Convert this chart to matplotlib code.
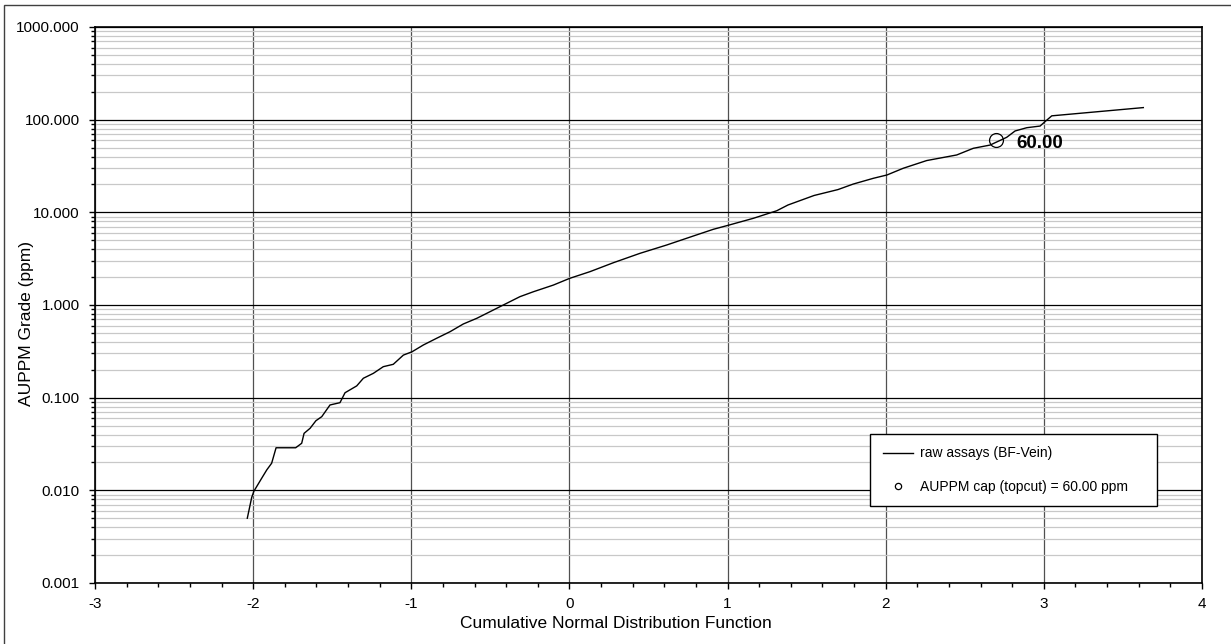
import matplotlib
matplotlib.use('Agg')
import matplotlib.pyplot as plt
from matplotlib.patches import Rectangle
from matplotlib.ticker import FixedLocator, LogLocator, NullFormatter

plt.rcParams['font.family'] = ['Liberation Sans', 'DejaVu Sans']
plt.rcParams['axes.unicode_minus'] = False

# normal score (x) and grade in ppm (y)
cdf_x = [-2.037, -2.009, -1.995, -1.946, -1.914, -1.883, -1.855, -1.731, -1.693,
         -1.678, -1.640, -1.603, -1.566, -1.514, -1.451, -1.419, -1.345, -1.303,
         -1.240, -1.177, -1.114, -1.050, -0.995, -0.924, -0.839, -0.755, -0.671,
         -0.586, -0.502, -0.418, -0.313, -0.228, -0.102, 0.002, 0.130, 0.278,
         0.446, 0.615, 0.783, 0.910, 1.003, 1.163, 1.311, 1.382, 1.547, 1.698,
         1.795, 1.922, 2.008, 2.111, 2.259, 2.449, 2.554, 2.660, 2.765, 2.818,
         2.892, 2.976, 3.007, 3.050, 3.629]
grade = [0.0050, 0.0084, 0.0098, 0.0135, 0.0166, 0.0196, 0.0288, 0.0288, 0.0322,
         0.0412, 0.0467, 0.0564, 0.0624, 0.0834, 0.0883, 0.113, 0.134, 0.162,
         0.183, 0.216, 0.229, 0.288, 0.313, 0.370, 0.438, 0.515, 0.624,
         0.718, 0.847, 1.00, 1.23, 1.39, 1.64, 1.94, 2.29, 2.86,
         3.61, 4.44, 5.55, 6.56, 7.24, 8.62, 10.4, 12.0, 15.2, 17.6,
         20.2, 23.3, 25.3, 29.9, 36.2, 41.6, 49.1, 53.2, 64.5, 75.5,
         81.9, 85.3, 95.1, 110.0, 135.0]

cap_x = 2.7
cap_value = 60.0
cap_label = '60.00'

x_ticks = [-3, -2, -1, 0, 1, 2, 3, 4]
y_ticks = [0.001, 0.01, 0.1, 1, 10, 100, 1000]

fig = plt.figure(figsize=(12.31, 6.44), dpi=100)
ax = fig.add_axes([95 / 1231, 1 - 583 / 644, 1107 / 1231, 556 / 644])

ax.set_yscale('log')
ax.set_xlim(-3, 4)
ax.set_ylim(0.001, 1000)

# grid: light minor lines for y, dark majors
ax.yaxis.set_minor_locator(LogLocator(base=10, subs=range(2, 10)))
ax.yaxis.set_minor_formatter(NullFormatter())
ax.xaxis.set_major_locator(FixedLocator(x_ticks))
ax.xaxis.set_minor_locator(FixedLocator([v / 5 for v in range(-15, 21)]))
ax.yaxis.set_major_locator(FixedLocator(y_ticks))
ax.set_yticklabels(['%.3f' % v for v in y_ticks])
ax.set_xticklabels([str(v) for v in x_ticks])
ax.grid(True, which='minor', axis='y', color='#c8c8c8', linewidth=0.9)
ax.grid(True, which='major', axis='y', color='black', linewidth=0.9)
ax.grid(True, which='major', axis='x', color='#505050', linewidth=0.9)
ax.set_axisbelow(True)

ax.tick_params(which='major', direction='out', length=4, width=1, labelsize=11, colors='black')
ax.tick_params(axis='y', which='major', pad=7)
ax.tick_params(axis='x', which='major', pad=6)
ax.tick_params(which='minor', direction='out', length=3, width=1)
for s in ax.spines.values():
    s.set_linewidth(1.2)

ax.plot(cdf_x, grade, color='black', linewidth=1, label='raw assays (BF-Vein)')
ax.plot([cap_x], [cap_value], linestyle='none', marker='o', markersize=10,
        markerfacecolor='none', markeredgecolor='black', markeredgewidth=0.9,
        label='AUPPM cap (topcut) = %.2f ppm' % cap_value)
ax.annotate(cap_label, (cap_x, cap_value), xytext=(14.5, -2), textcoords='offset points',
            fontsize=13.5, fontweight='bold', va='center', ha='left')

ax.set_xlabel('Cumulative Normal Distribution Function', fontsize=12.5)
ax.set_ylabel('AUPPM Grade (ppm)', fontsize=12.5)
ax.xaxis.set_label_coords((616 - 95) / 1107, (583 - 623) / 556)
ax.xaxis.label.set_va('center')
ax.yaxis.set_label_coords((27 - 95) / 1107, (583 - 324) / 556)
ax.yaxis.label.set_va('center')

leg = ax.legend(loc='upper left', bbox_to_anchor=((870 - 95) / 1107, (583 - 434) / 556,
                                                  287 / 1107, 0.0), mode='expand',
                borderaxespad=0, fontsize=10, markerscale=0.45, handlelength=2.2,
                labelspacing=1.4, borderpad=0.9, handletextpad=0.5, fancybox=False,
                framealpha=1, edgecolor='black')
leg.get_frame().set_linewidth(1)

# outer chart border
fig.patches.append(Rectangle((3.5 / 1231, -0.01), 1, (644 - 4.5) / 644 + 0.01,
                             transform=fig.transFigure, fill=False,
                             edgecolor='#404040', linewidth=1))

fig.savefig('out.png', dpi=100)
